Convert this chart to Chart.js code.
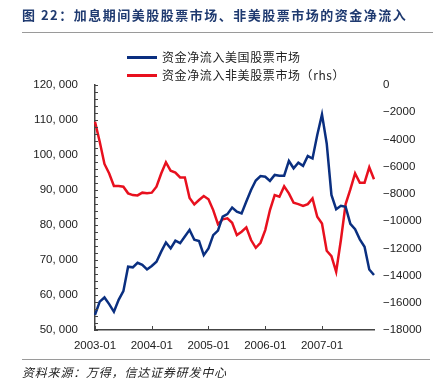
<!DOCTYPE html>
<html>
<head>
<meta charset="utf-8">
<script src="https://cdn.jsdelivr.net/npm/chart.js@4"></script>
<style>
body { margin: 0; background: #fff; }
#wrap { position: relative; width: 445px; height: 387px; font-family: "Noto Sans CJK SC", sans-serif; }
#chart { position: absolute; left: 0; top: 0; }
.title { position: absolute; left: 22px; top: 5px; font-size: 13px; font-weight: bold; color: #1f3a70; letter-spacing: 1.5px; white-space: nowrap; line-height: 20px; }
.rule { position: absolute; left: 22px; width: 411px; height: 0; border-top: 1.5px solid #9a9a9a; }
.leg { position: absolute; left: 127px; font-size: 12px; color: #222; letter-spacing: 0.6px; white-space: nowrap; line-height: 16px; }
.leg span { display: inline-block; width: 30px; height: 3px; vertical-align: middle; margin-right: 5px; position: relative; top: -1px; }
.src { position: absolute; left: 22px; top: 364px; font-size: 12px; font-style: italic; color: #222; letter-spacing: 0.8px; white-space: nowrap; line-height: 16px; }
</style>
</head>
<body>
<div id="wrap">
<canvas id="chart" width="445" height="387"></canvas>
<div class="title">图 22：加息期间美股股票市场、非美股票市场的资金净流入</div>
<div class="rule" style="top:32px"></div>
<div class="leg" style="top:49px"><span style="background:#0a2f80"></span>资金净流入美国股票市场</div>
<div class="leg" style="top:67px"><span style="background:#e8101e"></span>资金净流入非美股票市场（rhs）</div>
<div class="rule" style="top:359px;width:408px"></div>
<div class="src">资料来源：万得，信达证券研发中心</div>
</div>
<script>
// months 2003-01 .. 2007-12
const months = [
'2003-01','2003-02','2003-03','2003-04','2003-05','2003-06','2003-07','2003-08','2003-09','2003-10','2003-11','2003-12',
'2004-01','2004-02','2004-03','2004-04','2004-05','2004-06','2004-07','2004-08','2004-09','2004-10','2004-11','2004-12',
'2005-01','2005-02','2005-03','2005-04','2005-05','2005-06','2005-07','2005-08','2005-09','2005-10','2005-11','2005-12',
'2006-01','2006-02','2006-03','2006-04','2006-05','2006-06','2006-07','2006-08','2006-09','2006-10','2006-11','2006-12',
'2007-01','2007-02','2007-03','2007-04','2007-05','2007-06','2007-07','2007-08','2007-09','2007-10','2007-11','2007-12'
];

// US equity inflow (left axis)
const usFlow = [
54300,58100,59300,57400,55200,58600,61100,68100,67900,69200,
68600,67300,68300,69500,72400,75000,73300,75500,74800,76700,
78600,75800,75400,71400,73300,77100,78400,82400,83100,85000,
83800,83300,86700,90000,92700,94000,93800,92600,94300,94100,
94100,98300,96200,97800,96900,99700,99000,105700,111600,103300,
88600,84500,85500,85200,80300,78800,75900,73800,67300,65700
];

// non-US equity inflow (right axis, rhs)
const nonUsFlow = [
-2700,-4170,-5800,-6500,-7420,-7420,-7470,-7960,-8090,-8110,
-7910,-7960,-7910,-7470,-6500,-5680,-6300,-6440,-6790,-6790,
-8300,-8770,-8450,-8160,-8400,-9190,-10220,-9870,-9800,-10120,
-11030,-10780,-10460,-11390,-11960,-11590,-10660,-9190,-8090,-8210,
-7450,-7960,-8650,-8750,-8890,-8750,-8330,-9680,-10170,-12180,
-12570,-13720,-11390,-8750,-7670,-6500,-7180,-7180,-6050,-6930
];

const yearTicks = ['2003-01','2004-01','2005-01','2006-01','2007-01'];

const axisFont = { family: 'Liberation Sans, Arial, sans-serif', size: 11.5 };

// small inward tick marks on left axis and bottom axis
const minorTicks = {
  id: 'minorTicks',
  afterDraw(chart) {
    const ctx = chart.ctx;
    const y = chart.scales.y, x = chart.scales.x;
    const area = chart.chartArea;
    ctx.save();
    ctx.strokeStyle = '#444';
    ctx.lineWidth = 1;
    for (let v = 50000; v <= 120000; v += 2000) {
      const py = Math.round(y.getPixelForValue(v)) + 0.5;
      ctx.beginPath();
      ctx.moveTo(area.left, py);
      ctx.lineTo(area.left + 3, py);
      ctx.stroke();
    }
    months.forEach((m, i) => {
      if (yearTicks.indexOf(m) < 0) return;
      const px = Math.round(x.getPixelForValue(i)) + 0.5;
      ctx.beginPath();
      ctx.moveTo(px, area.bottom);
      ctx.lineTo(px, area.bottom - 4);
      ctx.stroke();
    });
    ctx.restore();
  }
};

const ctx = document.getElementById('chart').getContext('2d');
new Chart(ctx, {
  type: 'line',
  data: {
    labels: months,
    datasets: [
      { label: '资金净流入美国股票市场', data: usFlow, yAxisID: 'y', borderColor: '#0a2f80', borderWidth: 2.5, pointRadius: 0, tension: 0 },
      { label: '资金净流入非美股票市场（rhs）', data: nonUsFlow, yAxisID: 'y1', borderColor: '#e8101e', borderWidth: 2.5, pointRadius: 0, tension: 0 }
    ]
  },
  options: {
    responsive: false,
    animation: false,
    layout: { padding: { top: 85, left: 0, right: 0, bottom: 0 } },
    plugins: { legend: { display: false }, tooltip: { enabled: false } },
    scales: {
      x: {
        type: 'category',
        offset: false,
        grid: { display: false, drawTicks: false },
        border: { display: true, color: '#444', width: 1.5 },
        ticks: {
          autoSkip: false, maxRotation: 0, padding: 9, color: '#222', font: axisFont,
          callback: function (v, i) { return yearTicks.indexOf(months[i]) >= 0 ? months[i] : ''; }
        },
        afterFit: function (s) { s.height = 57; }
      },
      y: {
        position: 'left',
        min: 50000, max: 120000,
        grid: { display: false, drawTicks: false },
        border: { display: true, color: '#444', width: 1.5 },
        ticks: {
          stepSize: 10000, padding: 17, color: '#222', font: axisFont,
          callback: function (v) { return v.toLocaleString('en-US').replace(',', ', '); }
        },
        afterFit: function (s) { s.width = 95; }
      },
      y1: {
        position: 'right',
        min: -18000, max: 0,
        grid: { display: false, drawTicks: false },
        border: { display: false },
        ticks: {
          stepSize: 2000, padding: 9, color: '#222', font: axisFont,
          callback: function (v) { return v < 0 ? '\u2212' + Math.abs(v) : '0'; }
        },
        afterFit: function (s) { s.width = 71; }
      }
    }
  },
  plugins: [minorTicks]
});
</script>
</body>
</html>
